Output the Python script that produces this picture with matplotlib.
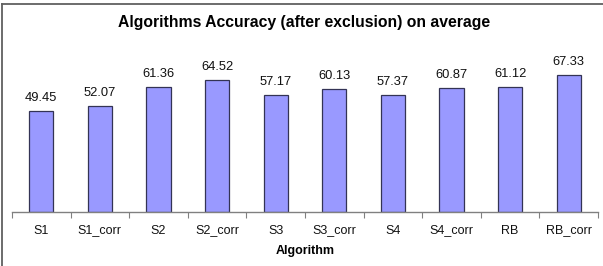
import matplotlib
matplotlib.use("Agg")
import matplotlib.pyplot as plt
from matplotlib.lines import Line2D
import numpy as np

categories = ["S1", "S1_corr", "S2", "S2_corr", "S3", "S3_corr", "S4", "S4_corr", "RB", "RB_corr"]
values = [49.45, 52.07, 61.36, 64.52, 57.17, 60.13, 57.37, 60.87, 61.12, 67.33]
title = "Algorithms Accuracy (after exclusion) on average"
xlabel = "Algorithm"

plt.rcParams['font.family'] = ['Liberation Sans', 'DejaVu Sans']

W, H = 603, 266
fig = plt.figure(figsize=(W / 100, H / 100), dpi=100)
fig.patch.set_facecolor("white")

# axes placement in pixels
x0, x1 = 12, 598
ybase, ytop = 212, 48.8
ax = fig.add_axes([x0 / W, (H - ybase) / H, (x1 - x0) / W, (ybase - ytop) / H])

x = np.arange(len(categories))
bars = ax.bar(x, values, width=0.41, color="#9999FF", edgecolor="#333355", linewidth=0.9)
ax.set_xlim(-0.5, len(categories) - 0.5)
ax.set_ylim(0, 80)

for xi, v in zip(x, values):
    ax.annotate(f"{v:.2f}", (xi, v), xytext=(0, 5), textcoords="offset points",
                ha="center", va="bottom", fontsize=9.3, color="#111111")

for s in ["top", "right", "left"]:
    ax.spines[s].set_visible(False)
ax.spines["bottom"].set_color("#808080")
ax.spines["bottom"].set_linewidth(1.0)
ax.set_yticks([])
ax.set_xticks(np.arange(-0.5, len(categories)), minor=False)
ax.set_xticklabels([])
ax.tick_params(axis="x", which="major", length=4, color="#808080", direction="out")
ax.set_xticks(x, minor=True)
ax.set_xticklabels(categories, minor=True, fontsize=9, color="#111111")
ax.tick_params(axis="x", which="minor", length=0, pad=9)

ax.set_xlabel(xlabel, fontsize=9, fontweight="bold", labelpad=6)
fig.text((x0 + x1) / 2 / W - 1 / W, 1 - 23 / H, title, ha="center", va="center",
         fontsize=11.3, fontweight="bold")

# outer frame (top and left visible)
fig.add_artist(Line2D([2 / W, 1], [1 - 4 / H, 1 - 4 / H], transform=fig.transFigure,
                      color="#606060", linewidth=1.3))
fig.add_artist(Line2D([2 / W, 2 / W], [0, 1 - 4 / H], transform=fig.transFigure,
                      color="#606060", linewidth=1.3))

fig.savefig("out.png", dpi=100)
